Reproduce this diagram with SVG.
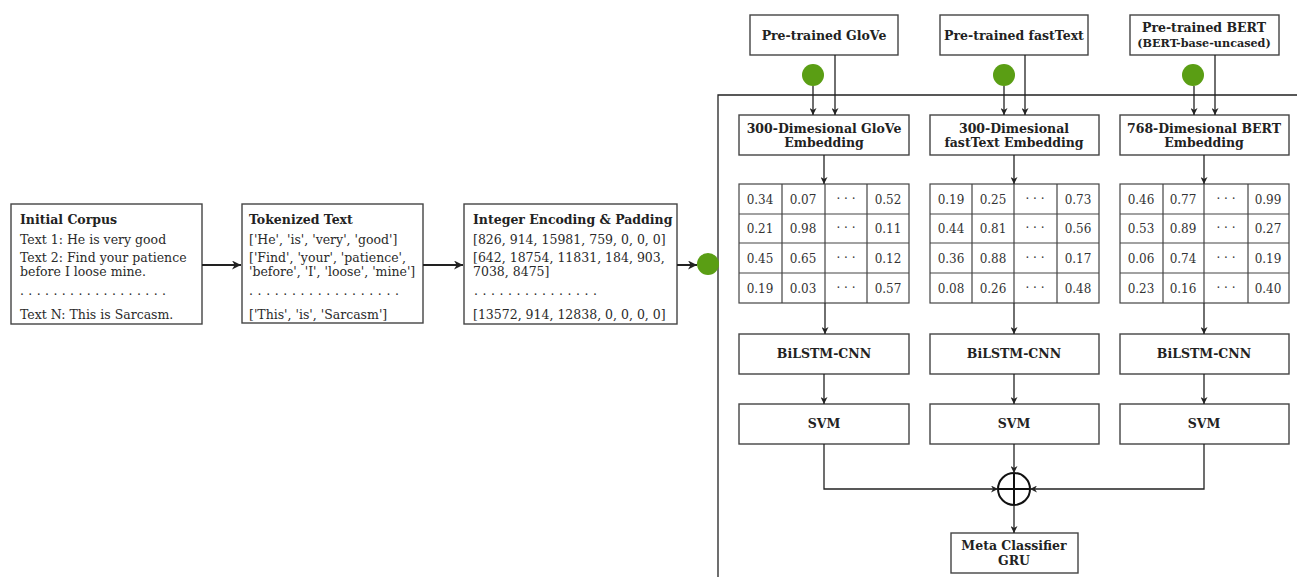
<svg xmlns="http://www.w3.org/2000/svg" width="1297" height="577" viewBox="0 0 1297 577">
<defs>
<style>
.box{fill:#fff;stroke:#444;stroke-width:1.4}
.t{font-family:"DejaVu Serif","Liberation Serif",serif;font-size:12.5px;fill:#2a2a2a}
.b{font-family:"DejaVu Serif","Liberation Serif",serif;font-size:12.5px;font-weight:bold;fill:#222}
.c{text-anchor:middle}
.ln{stroke:#222;stroke-width:1.3;fill:none}
.thick{stroke:#222;stroke-width:2;fill:none}
.dot{fill:#5a9e14}
.cell{fill:none;stroke:#444;stroke-width:1.2}
.n{font-family:"DejaVu Serif","Liberation Serif",serif;font-size:12px;fill:#333;text-anchor:middle}
</style>
<marker id="ah" viewBox="0 0 10 10" refX="10" refY="5" markerWidth="7" markerHeight="7" orient="auto" markerUnits="userSpaceOnUse">
<path d="M0,0 L10,5 L0,10 L3,5 Z" fill="#222"/>
</marker>
<marker id="ah2" viewBox="0 0 10 10" refX="10" refY="5" markerWidth="9" markerHeight="9" orient="auto" markerUnits="userSpaceOnUse">
<path d="M0,0 L10,5 L0,10 L3,5 Z" fill="#222"/>
</marker>
</defs>
<rect width="1297" height="577" fill="#fff"/>

<g id="ensemble-container">
<path class="ln" d="M718,577 L718,95 L1297,95" stroke="#444"/>
</g>

<g id="initial-corpus">
<rect class="box" x="11" y="204" width="191" height="120"/>
<text class="b" x="20" y="224">Initial Corpus</text>
<text class="t" x="20" y="244">Text 1: He is very good</text>
<text class="t" x="20" y="262">Text 2: Find your patience</text>
<text class="t" x="20" y="276">before I loose mine.</text>
<text class="t" x="20" y="295" textLength="146" lengthAdjust="spacing">..................</text>
<text class="t" x="20" y="319">Text N: This is Sarcasm.</text>
</g>

<g id="tokenized-text">
<rect class="box" x="242" y="204" width="181" height="119"/>
<text class="b" x="249" y="224">Tokenized Text</text>
<text class="t" x="249" y="244">['He', 'is', 'very', 'good']</text>
<text class="t" x="249" y="262">['Find', 'your', 'patience',</text>
<text class="t" x="249" y="276">'before', 'I', 'loose', 'mine']</text>
<text class="t" x="249" y="295" textLength="150" lengthAdjust="spacing">..................</text>
<text class="t" x="249" y="319">['This', 'is', 'Sarcasm']</text>
</g>

<g id="integer-encoding">
<rect class="box" x="464" y="204" width="213" height="120"/>
<text class="b" x="473" y="224">Integer Encoding &amp; Padding</text>
<text class="t" x="473" y="244">[826, 914, 15981, 759, 0, 0, 0]</text>
<text class="t" x="473" y="262">[642, 18754, 11831, 184, 903,</text>
<text class="t" x="473" y="276">7038, 8475]</text>
<text class="t" x="474" y="295" textLength="123" lengthAdjust="spacing">...............</text>
<text class="t" x="473" y="319">[13572, 914, 12838, 0, 0, 0, 0]</text>
</g>

<g id="input-dot"><circle class="dot" cx="708" cy="264" r="11"/></g>

<g id="pretrained-glove">
<rect class="box" x="750" y="15" width="148" height="40"/>
<text class="b c" x="824" y="40">Pre-trained GloVe</text>
</g>
<g id="pretrained-fasttext">
<rect class="box" x="940" y="15" width="148" height="40"/>
<text class="b c" x="1014" y="40">Pre-trained fastText</text>
</g>
<g id="pretrained-bert">
<rect class="box" x="1130" y="15" width="149" height="40"/>
<text class="b c" x="1204" y="32">Pre-trained BERT</text>
<text class="b c" x="1204" y="47" style="font-size:11.2px">(BERT-base-uncased)</text>
</g>

<g id="dot-glove"><circle class="dot" cx="813" cy="75" r="11"/></g>
<g id="dot-fasttext"><circle class="dot" cx="1004" cy="75" r="11"/></g>
<g id="dot-bert"><circle class="dot" cx="1193" cy="75" r="11"/></g>

<g id="emb-glove">
<rect class="box" x="739" y="115" width="170" height="40"/>
<text class="b c" x="824" y="133">300-Dimesional GloVe</text>
<text class="b c" x="824" y="147">Embedding</text>
</g>
<g id="emb-fasttext">
<rect class="box" x="930" y="115" width="169" height="40"/>
<text class="b c" x="1014" y="133">300-Dimesional</text>
<text class="b c" x="1014" y="147">fastText Embedding</text>
</g>
<g id="emb-bert">
<rect class="box" x="1120" y="115" width="169" height="40"/>
<text class="b c" x="1204" y="133">768-Dimesional BERT</text>
<text class="b c" x="1204" y="147">Embedding</text>
</g>

<g id="matrix-glove">
<rect class="cell" x="739" y="184" width="170" height="119"/>
<path class="cell" d="M739,214H909M739,243H909M739,273H909M782,184V303M825,184V303M867,184V303"/>
<text class="n" x="760" y="204">0.34</text><text class="n" x="803" y="204">0.07</text><text class="n" x="846" y="203">· · ·</text><text class="n" x="888" y="204">0.52</text>
<text class="n" x="760" y="233">0.21</text><text class="n" x="803" y="233">0.98</text><text class="n" x="846" y="232">· · ·</text><text class="n" x="888" y="233">0.11</text>
<text class="n" x="760" y="263">0.45</text><text class="n" x="803" y="263">0.65</text><text class="n" x="846" y="262">· · ·</text><text class="n" x="888" y="263">0.12</text>
<text class="n" x="760" y="293">0.19</text><text class="n" x="803" y="293">0.03</text><text class="n" x="846" y="292">· · ·</text><text class="n" x="888" y="293">0.57</text>
</g>
<g id="matrix-fasttext">
<rect class="cell" x="930" y="184" width="169" height="119"/>
<path class="cell" d="M930,214H1099M930,243H1099M930,273H1099M972,184V303M1014,184V303M1057,184V303"/>
<text class="n" x="951" y="204">0.19</text><text class="n" x="993" y="204">0.25</text><text class="n" x="1035" y="203">· · ·</text><text class="n" x="1078" y="204">0.73</text>
<text class="n" x="951" y="233">0.44</text><text class="n" x="993" y="233">0.81</text><text class="n" x="1035" y="232">· · ·</text><text class="n" x="1078" y="233">0.56</text>
<text class="n" x="951" y="263">0.36</text><text class="n" x="993" y="263">0.88</text><text class="n" x="1035" y="262">· · ·</text><text class="n" x="1078" y="263">0.17</text>
<text class="n" x="951" y="293">0.08</text><text class="n" x="993" y="293">0.26</text><text class="n" x="1035" y="292">· · ·</text><text class="n" x="1078" y="293">0.48</text>
</g>
<g id="matrix-bert">
<rect class="cell" x="1120" y="184" width="169" height="119"/>
<path class="cell" d="M1120,214H1289M1120,243H1289M1120,273H1289M1163,184V303M1204,184V303M1248,184V303"/>
<text class="n" x="1141" y="204">0.46</text><text class="n" x="1183" y="204">0.77</text><text class="n" x="1226" y="203">· · ·</text><text class="n" x="1268" y="204">0.99</text>
<text class="n" x="1141" y="233">0.53</text><text class="n" x="1183" y="233">0.89</text><text class="n" x="1226" y="232">· · ·</text><text class="n" x="1268" y="233">0.27</text>
<text class="n" x="1141" y="263">0.06</text><text class="n" x="1183" y="263">0.74</text><text class="n" x="1226" y="262">· · ·</text><text class="n" x="1268" y="263">0.19</text>
<text class="n" x="1141" y="293">0.23</text><text class="n" x="1183" y="293">0.16</text><text class="n" x="1226" y="292">· · ·</text><text class="n" x="1268" y="293">0.40</text>
</g>

<g id="bilstm-glove"><rect class="box" x="739" y="334" width="170" height="40"/><text class="b c" x="824" y="358">BiLSTM-CNN</text></g>
<g id="bilstm-fasttext"><rect class="box" x="930" y="334" width="169" height="40"/><text class="b c" x="1014" y="358">BiLSTM-CNN</text></g>
<g id="bilstm-bert"><rect class="box" x="1120" y="334" width="169" height="40"/><text class="b c" x="1204" y="358">BiLSTM-CNN</text></g>

<g id="svm-glove"><rect class="box" x="739" y="404" width="170" height="40"/><text class="b c" x="824" y="428">SVM</text></g>
<g id="svm-fasttext"><rect class="box" x="930" y="404" width="169" height="40"/><text class="b c" x="1014" y="428">SVM</text></g>
<g id="svm-bert"><rect class="box" x="1120" y="404" width="169" height="40"/><text class="b c" x="1204" y="428">SVM</text></g>

<g id="combine">
<circle cx="1014" cy="489" r="16" fill="#fff" stroke="#111" stroke-width="2"/>
<path d="M998,489H1030M1014,473V505" stroke="#111" stroke-width="2"/>
</g>

<g id="meta-classifier">
<rect class="box" x="951" y="533" width="127" height="40"/>
<text class="b c" x="1014" y="550">Meta Classifier</text>
<text class="b c" x="1014" y="565">GRU</text>
</g>

<g id="connectors">
<path class="thick" d="M202,265H241" marker-end="url(#ah2)"/>
<path class="thick" d="M423,265H463" marker-end="url(#ah2)"/>
<path class="thick" d="M677,265H697" marker-end="url(#ah2)"/>

<path class="ln" d="M813,86V115" marker-end="url(#ah)"/>
<path class="ln" d="M835,55V115" marker-end="url(#ah)"/>
<path class="ln" d="M1004,86V115" marker-end="url(#ah)"/>
<path class="ln" d="M1025,55V115" marker-end="url(#ah)"/>
<path class="ln" d="M1194,86V115" marker-end="url(#ah)"/>
<path class="ln" d="M1215,55V115" marker-end="url(#ah)"/>

<path class="ln" d="M824,155V184" marker-end="url(#ah)"/>
<path class="ln" d="M1014,155V184" marker-end="url(#ah)"/>
<path class="ln" d="M1204,155V184" marker-end="url(#ah)"/>

<path class="ln" d="M825,303V334" marker-end="url(#ah)"/>
<path class="ln" d="M1014,303V334" marker-end="url(#ah)"/>
<path class="ln" d="M1204,303V334" marker-end="url(#ah)"/>

<path class="ln" d="M824,374V404" marker-end="url(#ah)"/>
<path class="ln" d="M1014,374V404" marker-end="url(#ah)"/>
<path class="ln" d="M1204,374V404" marker-end="url(#ah)"/>

<path class="ln" d="M824,444V489H998" marker-end="url(#ah)"/>
<path class="ln" d="M1204,444V489H1030" marker-end="url(#ah)"/>
<path class="ln" d="M1014,444V473" marker-end="url(#ah)"/>
<path class="ln" d="M1014,505V533" marker-end="url(#ah)"/>
</g>
</svg>
